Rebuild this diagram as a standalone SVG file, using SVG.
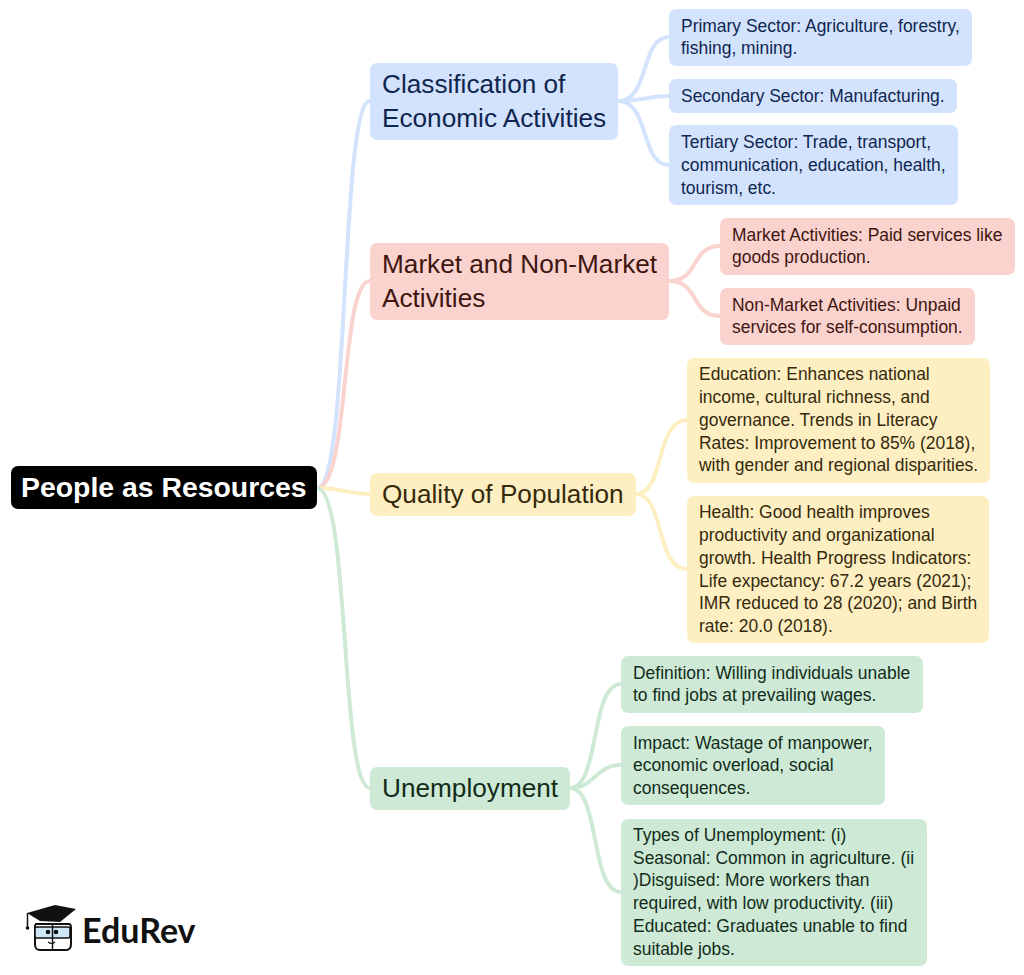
<svg xmlns="http://www.w3.org/2000/svg" width="1024" height="975" viewBox="0 0 1024 975">
<style>
text{font-family:"Liberation Sans",Arial,sans-serif}
.c{fill:none;stroke-width:4}
.s{font-size:17.45px}
.m{font-size:26.2px}
.bl{stroke:#d3e3fd}.rd{stroke:#fbd3ce}.yl{stroke:#feefc3}.gr{stroke:#ceead6}
.bf{fill:#d3e3fd}.rf{fill:#fbd3ce}.yf{fill:#feefc3}.gf{fill:#ceead6}
</style>
<rect width="1024" height="975" fill="#fff"/>
<g id="connectors">
<path class="c bl" d="M317 488C350 488 340 101 370 101"/>
<path class="c rd" d="M317 488C350 488 340 281 370 281"/>
<path class="c yl" d="M317 488C340 488 350 494 370 494"/>
<path class="c gr" d="M317 488C350 488 340 788 370 788"/>
<path class="c bl" d="M618 101C650 101 640 37 669 37M618 101C640 101 650 96 669 96M618 101C650 101 640 165 669 165"/>
<path class="c rd" d="M669 281C700 281 690 246 720 246M669 281C700 281 690 316 720 316"/>
<path class="c yl" d="M636 494C665 494 655 420 687 420M636 494C665 494 655 569 687 569"/>
<path class="c gr" d="M570 788C600 788 590 684 621 684M570 788C595 788 595 765 621 765M570 788C600 788 590 892 621 892"/>
</g>
<g id="root"><rect x="11" y="466" width="306" height="43" rx="7" fill="#000"/><text x="21" y="497" font-size="28.4" font-weight="700" fill="#fff">People as Resources</text></g>
<g id="n1" fill="#0f2650"><rect class="bf" x="370" y="63" width="248" height="77" rx="7"/><text class="m" x="382" y="93">Classification of</text><text class="m" x="382" y="127">Economic Activities</text></g>
<g id="n2" fill="#3f1510"><rect class="rf" x="370" y="243" width="299" height="77" rx="7"/><text class="m" x="382" y="273">Market and Non-Market</text><text class="m" x="382" y="307">Activities</text></g>
<g id="n3" fill="#352a0c"><rect class="yf" x="370" y="473" width="266" height="43" rx="7"/><text class="m" x="382" y="503">Quality of Population</text></g>
<g id="n4" fill="#122c1a"><rect class="gf" x="370" y="767" width="200" height="43" rx="7"/><text class="m" x="382" y="797">Unemployment</text></g>
<g id="n11" fill="#0f2650"><rect class="bf" x="669" y="9" width="303" height="57" rx="7"/><text class="s" x="681" y="32">Primary Sector: Agriculture, forestry,</text><text class="s" x="681" y="54">fishing, mining.</text></g>
<g id="n12" fill="#0f2650"><rect class="bf" x="669" y="79" width="288" height="34" rx="7"/><text class="s" x="681" y="102">Secondary Sector: Manufacturing.</text></g>
<g id="n13" fill="#0f2650"><rect class="bf" x="669" y="125" width="289" height="80" rx="7"/><text class="s" x="681" y="148">Tertiary Sector: Trade, transport,</text><text class="s" x="681" y="171">communication, education, health,</text><text class="s" x="681" y="194">tourism, etc.</text></g>
<g id="n21" fill="#3f1510"><rect class="rf" x="720" y="218" width="295" height="57" rx="7"/><text class="s" x="732" y="241">Market Activities: Paid services like</text><text class="s" x="732" y="263">goods production.</text></g>
<g id="n22" fill="#3f1510"><rect class="rf" x="720" y="288" width="255" height="57" rx="7"/><text class="s" x="732" y="311">Non-Market Activities: Unpaid</text><text class="s" x="732" y="333">services for self-consumption.</text></g>
<g id="n31" fill="#352a0c"><rect class="yf" x="687" y="358" width="303" height="125" rx="7"/><text class="s" x="699" y="380">Education: Enhances national</text><text class="s" x="699" y="403">income, cultural richness, and</text><text class="s" x="699" y="426">governance. Trends in Literacy</text><text class="s" x="699" y="449">Rates: Improvement to 85% (2018),</text><text class="s" x="699" y="471">with gender and regional disparities.</text></g>
<g id="n32" fill="#352a0c"><rect class="yf" x="687" y="496" width="302" height="147" rx="7"/><text class="s" x="699" y="518">Health: Good health improves</text><text class="s" x="699" y="541">productivity and organizational</text><text class="s" x="699" y="564">growth. Health Progress Indicators:</text><text class="s" x="699" y="587">Life expectancy: 67.2 years (2021);</text><text class="s" x="699" y="609">IMR reduced to 28 (2020); and Birth</text><text class="s" x="699" y="632">rate: 20.0 (2018).</text></g>
<g id="n41" fill="#122c1a"><rect class="gf" x="621" y="656" width="302" height="57" rx="7"/><text class="s" x="633" y="679">Definition: Willing individuals unable</text><text class="s" x="633" y="701">to find jobs at prevailing wages.</text></g>
<g id="n42" fill="#122c1a"><rect class="gf" x="621" y="726" width="264" height="79" rx="7"/><text class="s" x="633" y="749">Impact: Wastage of manpower,</text><text class="s" x="633" y="771">economic overload, social</text><text class="s" x="633" y="794">consequences.</text></g>
<g id="n43" fill="#122c1a"><rect class="gf" x="621" y="819" width="306" height="147" rx="7"/><text class="s" x="633" y="841">Types of Unemployment: (i)</text><text class="s" x="633" y="864">Seasonal: Common in agriculture. (ii</text><text class="s" x="633" y="886">)Disguised: More workers than</text><text class="s" x="633" y="909">required, with low productivity. (iii)</text><text class="s" x="633" y="932">Educated: Graduates unable to find</text><text class="s" x="633" y="955">suitable jobs.</text></g>
<g id="logo">
<path d="M36 924H69C71 924 71 926 71 928V944C71 948 69 950 66 950H40C36 950 35 948 35 944V928C35 926 35 924 36 924Z" fill="#fff" stroke="#111" stroke-width="2"/>
<rect x="35" y="927" width="35" height="11" rx="2" fill="#cfe6f7" stroke="#111" stroke-width="1.5"/>
<path d="M52.500 924V950" stroke="#111" stroke-width="1.500" fill="none"/>
<circle cx="48" cy="932" r="2.300" fill="#111"/><circle cx="56" cy="932" r="2.300" fill="#111"/>
<path d="M48 942Q52 945 55 942" stroke="#111" stroke-width="1.200" fill="none"/>
<path d="M27 913L55 905L76 909L60 922L40 921Z" fill="#111"/>
<path d="M27.500 913V927" stroke="#111" stroke-width="1.500" fill="none"/><circle cx="27.500" cy="928" r="1.800" fill="#111"/>
<text x="82" y="943" font-size="34" font-weight="700" fill="#111" style="font-family:Lato,sans-serif">EduRev</text></g>
</svg>
